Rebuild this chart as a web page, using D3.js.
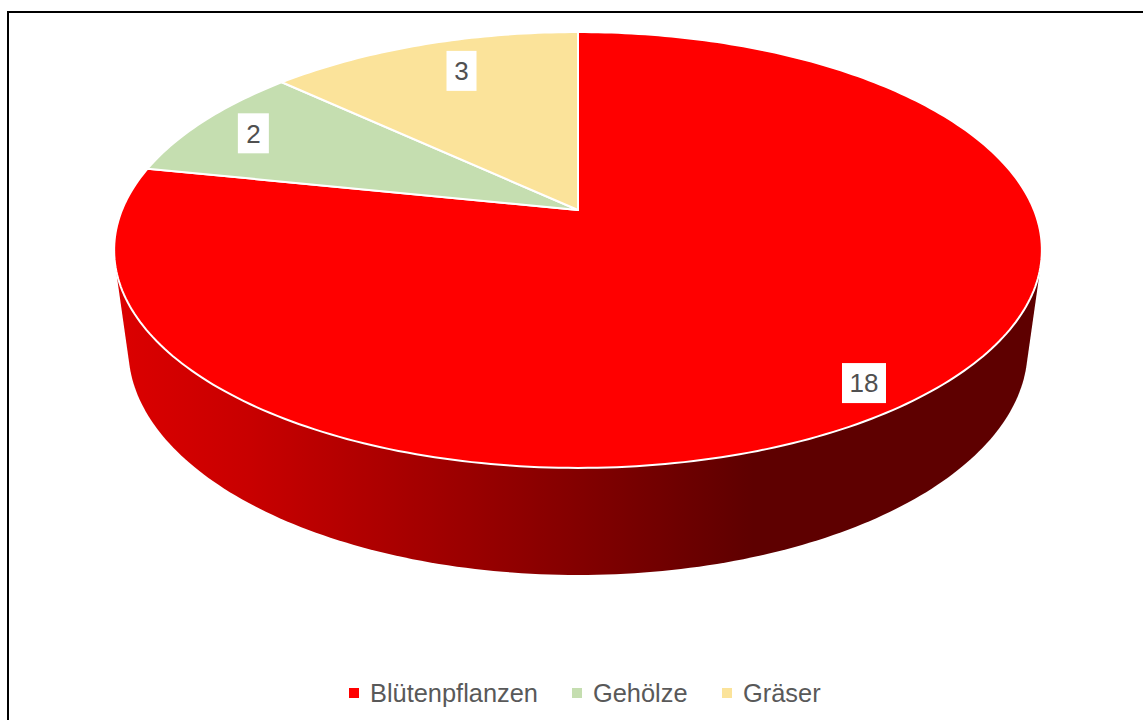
<!DOCTYPE html>
<html>
<head>
<meta charset="utf-8">
<script src="https://cdn.jsdelivr.net/npm/d3@7"></script>
<style>
  html, body { margin: 0; padding: 0; background: #fff; overflow: hidden; }
  svg { display: block; }
  text { font-family: "Liberation Sans", Arial, sans-serif; fill: #595959; }
</style>
</head>
<body>
<div id="chart"></div>
<script>
const categories = ["Blütenpflanzen", "Gehölze", "Gräser"];
const values = [18, 2, 3];
const colors = ["#ff0000", "#c5deb0", "#fbe39a"];

const width = 1143, height = 720;

const svg = d3.select("#chart").append("svg").attr("width", width).attr("height", height);

// frame runs off the right and bottom of the picture
svg.append("rect")
  .attr("x", 8).attr("y", 12)
  .attr("width", width + 20).attr("height", height + 20)
  .attr("fill", "#fff").attr("stroke", "#000").attr("stroke-width", 2);

/* ========== PROJECTION OF THE TILTED DISC ========== */

const tilt = 0.1834;

function projectPoint(u, v, disc) {
  const w = 1 + tilt * v;
  return [disc.cx + disc.a * u / w, disc.cy - disc.b * v / w];
}

function project(angle, disc, r = 1) {
  return projectPoint(Math.sin(angle) * r, Math.cos(angle) * r, disc);
}

const topDisc = { cx: 578, cy: 210, a: 456, b: 210.6 };
const bottomDisc = { cx: 578, cy: 308, a: 442, b: 218 };

const rimSteps = d3.range(0, 361).map((d) => (d * Math.PI) / 180);
const line = d3.line();

/* ========== SIDE WALL ========== */

const gradient = svg.append("defs").append("linearGradient")
  .attr("id", "wall")
  .attr("gradientUnits", "userSpaceOnUse")
  .attr("x1", 115).attr("x2", 1040).attr("y1", 0).attr("y2", 0);

[[0, "#dc0000"], [0.146, "#c80000"], [0.69, "#5e0000"], [1, "#5e0000"]].forEach((s) => {
  gradient.append("stop").attr("offset", s[0]).attr("stop-color", s[1]);
});

const hull = d3.polygonHull(
  rimSteps.map((a) => project(a, topDisc)).concat(rimSteps.map((a) => project(a, bottomDisc)))
);
svg.append("path")
  .attr("d", line(hull) + "Z")
  .attr("fill", "url(#wall)");

/* ========== TOP FACE ========== */

const pie = d3.pie().sort(null).value((d) => d);
const arcs = pie(values);

svg.append("g").selectAll("path")
  .data(arcs)
  .enter()
  .append("path")
  .attr("d", (d) => {
    const steps = d3.range(d.startAngle, d.endAngle, Math.PI / 180).concat([d.endAngle]);
    const pts = steps.map((a) => project(a, topDisc));
    return line([[topDisc.cx, topDisc.cy]].concat(pts)) + "Z";
  })
  .attr("fill", (d, i) => colors[i])
  .attr("stroke", "#fff")
  .attr("stroke-width", 2)
  .attr("stroke-linejoin", "round");

/* ========== DATA LABELS ========== */

// labels sit near the rim, nudged a little off the slice's mid line
const labelShift = [[4, 13], [0, 1], [20, 6]];
const labelW = [44, 31, 30], labelH = 40;

const labels = svg.append("g").selectAll("g")
  .data(arcs)
  .enter()
  .append("g")
  .attr("transform", (d, i) => {
    const p = project((d.startAngle + d.endAngle) / 2, topDisc, 0.86);
    return `translate(${p[0] + labelShift[i][0]},${p[1] + labelShift[i][1]})`;
  });

labels.append("rect")
  .attr("x", (d, i) => -labelW[i] / 2).attr("y", -labelH / 2)
  .attr("width", (d, i) => labelW[i]).attr("height", labelH)
  .attr("fill", "#fff");

labels.append("text")
  .attr("text-anchor", "middle")
  .attr("dy", "0.36em")
  .attr("font-size", 26)
  .style("fill", "#505050")
  .text((d) => d.data);

/* ========== LEGEND ========== */

const legendX = d3.scaleOrdinal().domain(categories).range([349, 572, 722]);

const legend = svg.append("g").selectAll("g")
  .data(categories)
  .enter()
  .append("g")
  .attr("transform", (d) => `translate(${legendX(d)},693)`);

legend.append("rect")
  .attr("x", 0).attr("y", -5)
  .attr("width", 10).attr("height", 10)
  .attr("fill", (d, i) => colors[i]);

legend.append("text")
  .attr("x", 21)
  .attr("dy", "0.35em")
  .attr("font-size", 25.4)
  .text((d) => d);
</script>
</body>
</html>
